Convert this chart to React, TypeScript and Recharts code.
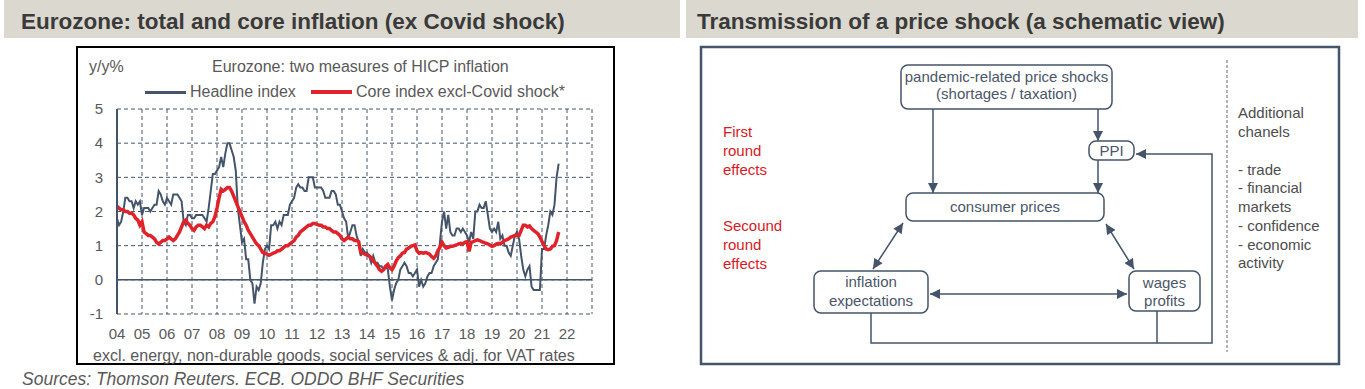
import { LineChart, Line, XAxis, YAxis, CartesianGrid, ReferenceLine } from 'recharts'

// monthly y/y %, first point = Jan 2004
const START_YEAR = 2004

const headline = [
  1.8, 1.6, 1.7, 2.0, 2.4, 2.4, 2.3, 2.3, 2.1, 2.3, 2.2, 2.3, // 04
  1.9, 2.1, 2.1, 2.1, 2.0, 2.1, 2.2, 2.2, 2.6, 2.5, 2.3, 2.2, // 05
  2.4, 2.3, 2.2, 2.5, 2.5, 2.5, 2.4, 2.3, 1.7, 1.6, 1.9, 1.9, // 06
  1.8, 1.8, 1.9, 1.9, 1.9, 1.9, 1.8, 1.7, 2.1, 2.6, 3.1, 3.1, // 07
  3.2, 3.3, 3.6, 3.3, 3.7, 4.0, 4.0, 3.8, 3.6, 3.2, 2.1, 1.6, // 08
  1.1, 1.2, 0.6, 0.6, 0.0, -0.1, -0.7, -0.2, -0.3, -0.1, 0.5, 0.9, // 09
  1.0, 0.9, 1.6, 1.6, 1.7, 1.5, 1.7, 1.6, 1.9, 1.9, 1.9, 2.2, // 10
  2.3, 2.4, 2.7, 2.8, 2.7, 2.7, 2.6, 2.6, 3.0, 3.0, 3.0, 2.7, // 11
  2.7, 2.7, 2.7, 2.6, 2.4, 2.4, 2.4, 2.6, 2.6, 2.5, 2.2, 2.2, // 12
  2.0, 1.8, 1.7, 1.2, 1.4, 1.6, 1.6, 1.3, 1.1, 0.7, 0.9, 0.8, // 13
  0.8, 0.7, 0.5, 0.7, 0.5, 0.5, 0.4, 0.4, 0.3, 0.4, 0.3, -0.2, // 14
  -0.6, -0.3, -0.1, 0.0, 0.3, 0.4, 0.5, 0.4, 0.2, 0.2, 0.1, 0.2, // 15
  0.3, -0.2, 0.0, -0.2, -0.1, 0.1, 0.2, 0.2, 0.4, 0.5, 0.6, 1.1, // 16
  1.7, 2.0, 1.5, 1.9, 1.4, 1.3, 1.3, 1.5, 1.5, 1.4, 1.5, 1.4, // 17
  1.3, 1.1, 1.4, 1.2, 2.0, 2.0, 2.2, 2.1, 2.1, 2.3, 1.9, 1.5, // 18
  1.4, 1.5, 1.4, 1.7, 1.2, 1.3, 1.0, 1.0, 0.8, 0.7, 1.0, 1.3, // 19
  1.4, 1.2, 0.7, 0.3, 0.1, 0.3, 0.4, -0.2, -0.3, -0.3, -0.3, -0.3, // 20
  0.9, 0.9, 1.3, 1.6, 2.0, 1.9, 2.2, 3.0, 3.4, // 21
]

const core = [
  2.15, 2.1, 2.05, 2.05, 2.0, 2.0, 1.95, 1.95, 1.9, 1.8, 1.75, 1.6, // 04
  1.7, 1.4, 1.35, 1.3, 1.3, 1.25, 1.2, 1.1, 1.05, 1.1, 1.15, 1.15, // 05
  1.2, 1.25, 1.2, 1.15, 1.2, 1.3, 1.4, 1.55, 1.7, 1.75, 1.65, 1.6, // 06
  1.5, 1.45, 1.55, 1.6, 1.6, 1.55, 1.5, 1.6, 1.55, 1.65, 1.7, 1.85, // 07
  2.1, 2.4, 2.65, 2.6, 2.65, 2.7, 2.7, 2.6, 2.45, 2.3, 2.15, 2.0, // 08
  1.85, 1.7, 1.6, 1.45, 1.35, 1.25, 1.15, 1.05, 1.0, 0.9, 0.8, 0.78, // 09
  0.75, 0.72, 0.75, 0.78, 0.8, 0.85, 0.85, 0.9, 0.95, 1.0, 1.0, 1.05, // 10
  1.1, 1.15, 1.25, 1.3, 1.4, 1.45, 1.5, 1.55, 1.6, 1.6, 1.65, 1.65, // 11
  1.62, 1.6, 1.6, 1.55, 1.55, 1.5, 1.5, 1.45, 1.4, 1.4, 1.35, 1.3, // 12
  1.2, 1.15, 1.2, 1.25, 1.2, 1.2, 1.15, 1.15, 1.12, 0.8, 0.78, 0.75, // 13
  0.72, 0.7, 0.65, 0.55, 0.48, 0.4, 0.3, 0.25, 0.3, 0.4, 0.45, 0.35, // 14
  0.3, 0.4, 0.55, 0.65, 0.7, 0.78, 0.8, 0.9, 0.93, 0.98, 1.0, 1.02, // 15
  0.85, 0.78, 0.8, 0.78, 0.8, 0.78, 0.75, 0.68, 0.63, 0.7, 0.85, 0.95, // 16
  1.1, 1.0, 0.93, 0.95, 0.98, 0.98, 1.0, 1.02, 1.05, 1.07, 1.05, 1.1, // 17
  1.12, 0.83, 1.1, 1.12, 1.15, 1.17, 1.15, 1.12, 1.1, 1.07, 1.05, 1.02, // 18
  0.98, 1.0, 1.05, 1.07, 1.05, 1.1, 1.15, 1.17, 1.2, 1.25, 1.27, 1.3, // 19
  1.31, 1.3, 1.45, 1.6, 1.6, 1.55, 1.58, 1.5, 1.45, 1.4, 1.35, 1.25, // 20
  1.12, 1.0, 0.9, 0.88, 0.9, 0.98, 1.0, 1.15, 1.4, // 21
]

const yearTicks = [
  2004, 2005, 2006, 2007, 2008, 2009, 2010, 2011, 2012, 2013,
  2014, 2015, 2016, 2017, 2018, 2019, 2020, 2021, 2022,
]
const valueTicks = [-1, 0, 1, 2, 3, 4, 5]

const data = headline.map((h, i) => ({
  t: START_YEAR + i / 12,
  headline: h,
  core: core[i],
}))

const FONT = '"Liberation Sans", Arial, sans-serif'
const SLATE = '#44546a'
const RED = '#e0232a'
const GREY_TXT = '#595959'

const txt = (left: number, top: number, size: number, extra: any = {}) => ({
  position: 'absolute' as const,
  left,
  top,
  fontSize: size,
  lineHeight: '1',
  whiteSpace: 'nowrap' as const,
  color: GREY_TXT,
  fontFamily: FONT,
  ...extra,
})

/* Left panel: line chart */
function InflationChart() {
  return (
    <>
      {/* cadre noir */}
      <div
        style={{
          position: 'absolute',
          left: 76,
          top: 46,
          width: 535,
          height: 315,
          border: '2.5px solid #000',
        }}
      />
      <div style={txt(89, 59, 16)}>y/y%</div>
      <div style={txt(212, 59, 16)}>Eurozone: two measures of HICP inflation</div>

      {/* legende */}
      <div style={{ position: 'absolute', left: 145, top: 91, width: 41, height: 3, background: SLATE }} />
      <div style={txt(190, 84, 16)}>Headline index</div>
      <div style={{ position: 'absolute', left: 311, top: 90, width: 41, height: 4, background: RED }} />
      <div style={txt(356, 84, 16)}>Core index excl-Covid shock*</div>

      <div style={{ position: 'absolute', left: 77, top: 47 }}>
        <LineChart
          width={536}
          height={316}
          data={data}
          margin={{ top: 62, right: 21, left: 10, bottom: 19 }}
        >
          <CartesianGrid stroke={SLATE} strokeDasharray="4 3" strokeWidth={1} />
          <XAxis
            dataKey="t"
            type="number"
            domain={[2004, 2023]}
            ticks={yearTicks}
            interval={0}
            tickFormatter={(v) => String(v % 100).padStart(2, '0')}
            axisLine={false}
            tickLine={false}
            tickMargin={8}
            height={30}
            tick={{ fill: GREY_TXT, fontSize: 15, fontFamily: FONT }}
          />
          <YAxis
            type="number"
            domain={[-1, 5]}
            ticks={valueTicks}
            interval={0}
            width={30}
            axisLine={{ stroke: SLATE, strokeWidth: 2 }}
            tickLine={false}
            tickMargin={8}
            tick={{ fill: GREY_TXT, fontSize: 15, fontFamily: FONT }}
          />
          <ReferenceLine y={0} stroke={SLATE} strokeWidth={1.5} />
          <Line
            type="linear"
            dataKey="headline"
            stroke={SLATE}
            strokeWidth={2}
            dot={false}
            isAnimationActive={false}
          />
          <Line
            type="linear"
            dataKey="core"
            stroke={RED}
            strokeWidth={3.5}
            dot={false}
            isAnimationActive={false}
          />
        </LineChart>
      </div>

      <div style={txt(93, 348, 16)}>
        excl. energy, non-durable goods, social services &amp; adj. for VAT rates
      </div>
      <div style={txt(22, 371, 17.5, { fontStyle: 'italic' })}>
        Sources: Thomson Reuters. ECB. ODDO BHF Securities
      </div>
    </>
  )
}

/* Right panel: schematic */
const boxes = [
  { x: 901, y: 65, w: 211, h: 44, lines: ['pandemic-related price shocks', '(shortages / taxation)'], ty: [77, 94] },
  { x: 1089, y: 141, w: 45, h: 19, lines: ['PPI'], ty: [150.5] },
  { x: 906, y: 193, w: 198, h: 28, lines: ['consumer prices'], ty: [207] },
  { x: 814, y: 271, w: 114, h: 42, lines: ['inflation', 'expectations'], ty: [282, 301] },
  { x: 1129, y: 271, w: 71, h: 40, lines: ['wages', 'profits'], ty: [283, 301] },
]

const firstRound = ['First', 'round', 'effects']
const secondRound = ['Secound', 'round', 'effects']
const channels = ['Additional', 'chanels', '', '- trade', '- financial', 'markets', '- confidence', '- economic', 'activity']

function Schematic() {
  const stroke = { stroke: SLATE, strokeWidth: 1.5, fill: 'none' }
  return (
    <svg
      width={680}
      height={389}
      style={{ position: 'absolute', left: 685, top: 0 }}
      fontFamily={FONT}
    >
      <defs>
        <marker
          id="ah"
          viewBox="0 0 10 10"
          refX={10}
          refY={5}
          markerWidth={11}
          markerHeight={10}
          markerUnits="userSpaceOnUse"
          orient="auto-start-reverse"
        >
          <path d="M0,0 L10,5 L0,10 z" fill={SLATE} />
        </marker>
      </defs>
      <g transform="translate(-685,0)">
        <rect x={701} y={47} width={638} height={317} fill="none" stroke={SLATE} strokeWidth={2.5} />

        {/* fleches */}
        <line x1={933} y1={109} x2={933} y2={193} {...stroke} markerEnd="url(#ah)" />
        <line x1={1098} y1={109} x2={1098} y2={141} {...stroke} markerEnd="url(#ah)" />
        <line x1={1098} y1={160} x2={1098} y2={193} {...stroke} markerEnd="url(#ah)" />
        <polyline points="871,313 871,343 1212,343 1212,154 1136,154" {...stroke} markerEnd="url(#ah)" />
        <line x1={1157} y1={311} x2={1157} y2={343} {...stroke} />
        <line x1={903} y1={223} x2={873} y2={269} {...stroke} markerStart="url(#ah)" markerEnd="url(#ah)" />
        <line x1={1106} y1={224} x2={1134} y2={269} {...stroke} markerStart="url(#ah)" markerEnd="url(#ah)" />
        <line x1={930} y1={294} x2={1127} y2={294} {...stroke} markerStart="url(#ah)" markerEnd="url(#ah)" />

        {boxes.map((b, i) => (
          <g key={i}>
            <rect x={b.x} y={b.y} width={b.w} height={b.h} rx={7} fill="#fff" stroke={SLATE} strokeWidth={1.5} />
            {b.lines.map((l, j) => (
              <text key={j} x={b.x + b.w / 2} y={b.ty[j]} dy="0.35em" textAnchor="middle" fontSize={15} fill="#4a5668">
                {l}
              </text>
            ))}
          </g>
        ))}

        {firstRound.map((l, j) => (
          <text key={'f' + j} x={723} y={132 + j * 18.7} dy="0.35em" fontSize={15} fill="#d7191f">{l}</text>
        ))}
        {secondRound.map((l, j) => (
          <text key={'s' + j} x={723} y={226 + j * 18.7} dy="0.35em" fontSize={15} fill="#d7191f">{l}</text>
        ))}

        <line x1={1227} y1={60} x2={1227} y2={352} stroke="#666" strokeWidth={1} strokeDasharray="3 2" />
        {channels.map((l, j) => (
          <text key={'c' + j} x={1238} y={113 + j * 18.75} dy="0.35em" fontSize={15} fill="#4d4d4d">{l}</text>
        ))}
      </g>
    </svg>
  )
}

export default function App() {
  return (
    <div
      style={{
        position: 'absolute',
        left: 0,
        top: 0,
        width: 1365,
        height: 389,
        background: '#fff',
        fontFamily: FONT,
        overflow: 'hidden',
      }}
    >
      {/* bandeaux de titre */}
      <div style={{ position: 'absolute', left: 4, top: 0, width: 676, height: 38, background: '#dbd8cf' }} />
      <div style={{ position: 'absolute', left: 686, top: 0, width: 672, height: 38, background: '#dbd8cf' }} />
      <div style={txt(21, 11, 22.5, { fontWeight: 'bold', color: '#3a3a3a' })}>
        Eurozone: total and core inflation (ex Covid shock)
      </div>
      <div style={txt(697, 11, 22.5, { fontWeight: 'bold', color: '#3a3a3a' })}>
        Transmission of a price shock (a schematic view)
      </div>

      <InflationChart />
      <Schematic />
    </div>
  )
}
